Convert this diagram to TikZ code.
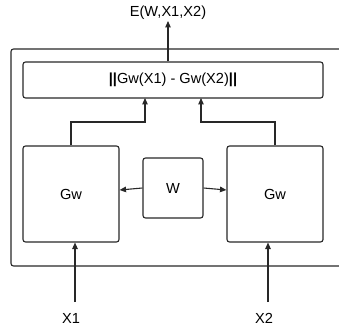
\documentclass[tikz,border=0pt]{standalone}
\usepackage{fontspec}
\setmainfont{Liberation Sans}
\usetikzlibrary{arrows.meta}
\definecolor{ln}{RGB}{40,40,40}
\begin{document}
\begin{tikzpicture}[x=1pt,y=-1pt,
  box/.style={draw=ln,line width=1.1pt,rounded corners=2.5pt,inner sep=0pt,font=\fontsize{14.6}{17}\selectfont},
  lbl/.style={inner sep=0pt,font=\fontsize{14.6}{17}\selectfont},
  conn/.style={draw=ln,line width=1.1pt,-{Triangle[length=6.5pt,width=5.5pt]}}]
\useasboundingbox (0,0) rectangle (339,331);
% outer frame
\draw[ln,line width=1.1pt,rounded corners=2.5pt] (345,49) -- (11,49) -- (11,266) -- (345,266);
% nodes
\node[box,minimum width=300pt,minimum height=36pt] (dist) at (173,80) {\textbf{||}Gw(X1) - Gw(X2)\textbf{||}};
\node[box,minimum width=96pt,minimum height=96pt] (g1) at (71,194) {Gw};
\node[box,minimum width=96pt,minimum height=96pt] (g2) at (275,194) {Gw};
\node[box,minimum width=60pt,minimum height=60pt] (w) at (173,188) {W};
\node[lbl] (e) at (168,13) {E(W,X1,X2)};
\node[lbl] (x1) at (71,318) {X1};
\node[lbl] (x2) at (264,318) {X2};
% connectors
\coordinate (etip) at (168,21);
\draw[conn] (dist.north -| etip) -- (etip);
\draw[conn] (g1.north) |- (145,122) -- (145,98);
\draw[conn] (g2.north) |- (201,122) -- (201,98);
\draw[conn] (w.west |- 0,188) -- (g1.east |- 0,190);
\draw[conn] (w.east |- 0,188) -- (g2.west |- 0,190);
\coordinate (x1s) at (75,302);
\coordinate (x2s) at (268,302);
\draw[conn] (x1s) -- (g1.south -| x1s);
\draw[conn] (x2s) -- (g2.south -| x2s);
\end{tikzpicture}
\end{document}
